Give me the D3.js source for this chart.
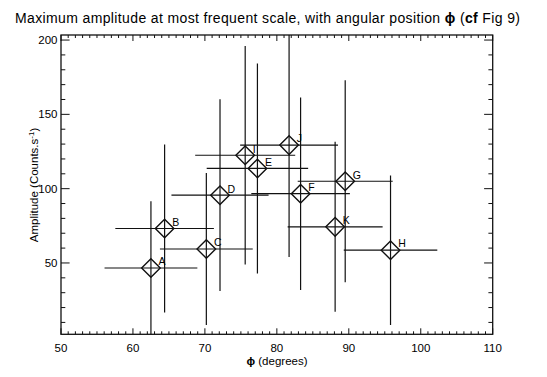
<!DOCTYPE html>
<html><head><meta charset="utf-8">
<script src="https://cdn.jsdelivr.net/npm/d3@7/dist/d3.min.js"></script>
<style>body{margin:0;background:#fff}svg{display:block}text{font-family:"Liberation Sans",Arial,sans-serif;fill:#000}</style>
</head><body><svg id="c" width="547" height="377"></svg>
<script>
const labels = ["A","B","C","D","E","F","G","H","I","J","K"];
const phi    = [62.5, 64.4, 70.2, 72.1, 77.3, 83.3, 89.5, 95.8, 75.6, 81.7, 88.1];
const phiErr = [6.45, 6.85, 6.45, 6.75, 7.05, 6.85, 6.6, 6.5, 6.95, 6.8, 6.6];
const amp    = [46.6, 73.2, 59.4, 95.6, 113.6, 96.6, 105.0, 58.6, 122.5, 129.3, 74.3];
const ampErr = [45.0, 56.6, 51.2, 64.5, 70.7, 64.8, 67.9, 50.3, 73.5, 75.3, 57.2];
const xTicks = [50,60,70,80,90,100,110];
const yTicks = [50,100,150,200];

const L=61, R=492.7, T=35, B=334.3;
const x = d3.scaleLinear().domain([50,110]).range([L,R]);
const y = d3.scaleLinear().domain([2,203.4]).range([B,T]);
const svg = d3.select("#c");
const ink="#111";

svg.append("defs").append("clipPath").attr("id","clip")
  .append("rect").attr("x",L).attr("y",T).attr("width",R-L).attr("height",B-T);

const title = svg.append("text").attr("x",15).attr("y",23).attr("font-size",14).attr("textLength",505).attr("lengthAdjust","spacing");
title.append("tspan").text("Maximum amplitude at most frequent scale, with angular position ");
title.append("tspan").attr("font-weight","bold").text("\u03d5");
title.append("tspan").text(" (");
title.append("tspan").attr("font-weight","bold").text("cf");
title.append("tspan").text(" Fig 9)");

const g = svg.append("g");
const xMinor = d3.range(50,111,1), yMinor = d3.range(10,201,10);
xMinor.forEach(v=>{
  const len = xTicks.includes(v)?6:3;
  g.append("line").attr("x1",x(v)).attr("x2",x(v)).attr("y1",B).attr("y2",B-len).attr("stroke",ink).attr("stroke-width",1);
  g.append("line").attr("x1",x(v)).attr("x2",x(v)).attr("y1",T).attr("y2",T+len).attr("stroke",ink).attr("stroke-width",1);
});
yMinor.forEach(v=>{
  const len = yTicks.includes(v)?8.6:4.3;
  g.append("line").attr("y1",y(v)).attr("y2",y(v)).attr("x1",L).attr("x2",L+len).attr("stroke",ink).attr("stroke-width",1);
  g.append("line").attr("y1",y(v)).attr("y2",y(v)).attr("x1",R).attr("x2",R-len).attr("stroke",ink).attr("stroke-width",1);
});
g.append("rect").attr("x",L).attr("y",T).attr("width",R-L).attr("height",B-T)
  .attr("fill","none").attr("stroke",ink).attr("stroke-width",1.3);

xTicks.forEach(v=>svg.append("text").attr("x",x(v)).attr("y",352).attr("text-anchor","middle").attr("font-size",11.5).text(v));
yTicks.forEach(v=>svg.append("text").attr("x",57.5).attr("y",y(v)+4).attr("text-anchor","end").attr("font-size",11.5).text(v));

const xl = svg.append("text").attr("x",277).attr("y",365).attr("text-anchor","middle").attr("font-size",11.5);
xl.append("tspan").attr("font-weight","bold").text("\u03d5");
xl.append("tspan").text(" (degrees)");
const yl = svg.append("text").attr("transform","translate(38,185) rotate(-90)").attr("text-anchor","middle").attr("font-size",11.5);
yl.append("tspan").text("Amplitude (Counts.s");
yl.append("tspan").attr("font-size",8).attr("dy",-4).text("-1");
yl.append("tspan").attr("dy",4).text(")");

const data = labels.map((l,i)=>({l, x:phi[i], xe:phiErr[i], y:amp[i], ye:ampErr[i]}));
const pg = svg.append("g").attr("clip-path","url(#clip)");
data.forEach(d=>{
  pg.append("line").attr("x1",x(d.x-d.xe)).attr("x2",x(d.x+d.xe)).attr("y1",y(d.y)).attr("y2",y(d.y)).attr("stroke",ink).attr("stroke-width",1.2);
  pg.append("line").attr("x1",x(d.x)).attr("x2",x(d.x)).attr("y1",y(d.y-d.ye)).attr("y2",y(d.y+d.ye)).attr("stroke",ink).attr("stroke-width",1.2);
  const cx=x(d.x), cy=y(d.y), r=9.3;
  pg.append("path").attr("d",`M${cx},${cy-r}L${cx+r},${cy}L${cx},${cy+r}L${cx-r},${cy}Z`)
    .attr("fill","none").attr("stroke",ink).attr("stroke-width",1.4);
  svg.append("text").attr("x",cx+7.6).attr("y",cy-2.7).attr("font-size",10.5).text(d.l);
});
</script></body></html>
